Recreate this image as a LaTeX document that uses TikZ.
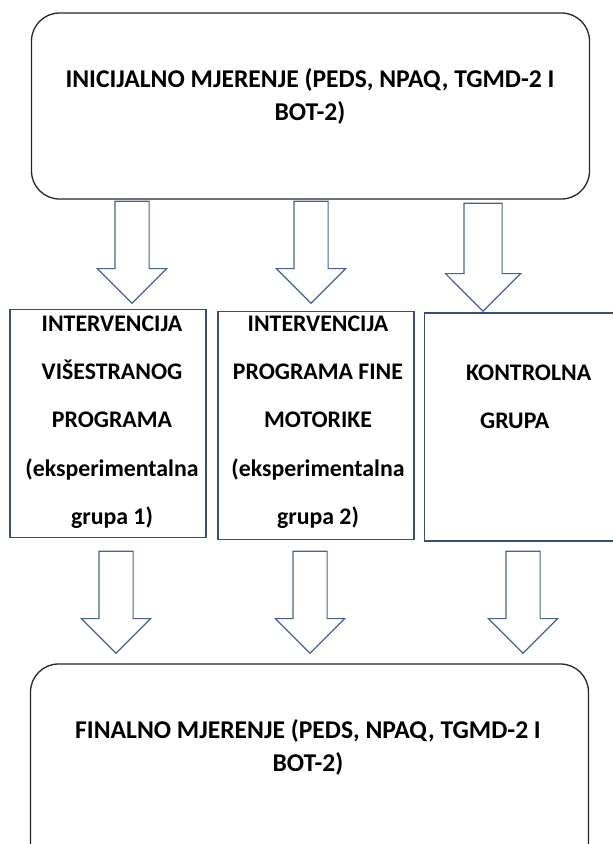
\documentclass[tikz,border=0pt]{standalone}
\usepackage{fontspec}
\setmainfont{Carlito}
\usetikzlibrary{shapes.arrows}
\definecolor{frameblue}{RGB}{58,78,112}
\definecolor{arrowblue}{RGB}{72,98,142}

\begin{document}
\begin{tikzpicture}[x=1pt, y=1pt,
    measure/.style={draw=black!85, line width=1.3pt, rounded corners=28pt, minimum width=558pt, inner sep=0pt},
    group/.style={draw=frameblue, line width=1.2pt, minimum height=228pt, inner sep=0pt},
    bigtext/.style={font=\fontsize{25.6}{33}\selectfont\bfseries, align=center, inner sep=0pt},
    smalltext/.style={font=\fontsize{23.8}{48.3}\selectfont\bfseries, align=center, inner sep=0pt},
    downarrow/.style={single arrow, draw=arrowblue, line width=1.1pt, rotate=-90, anchor=tip,
      inner xsep=0pt, inner ysep=16.5pt, single arrow head extend=17.5pt, minimum height=102pt}
  ]
  \useasboundingbox (0,0) rectangle (613,-844);

  % measurements
  \node[measure, minimum height=186pt] (init) at (310.5,-106) {};
  \node[bigtext] (inittext) at (310,-96) {INICIJALNO MJERENJE (PEDS, NPAQ, TGMD-2 I\\BOT-2)};
  \node[measure, minimum height=216pt] (final) at (309.5,-772) {};
  \node[bigtext] (finaltext) at (308,-747) {FINALNO MJERENJE (PEDS, NPAQ, TGMD-2 I\\BOT-2)};

  % groups
  \node[group, minimum width=196pt] (exp1) at (108,-423.5) {};
  \node[group, minimum width=196pt] (exp2) at (316,-425.5) {};
  \node[group, minimum width=222pt] (ctrl) at (535.5,-427) {};
  \node[smalltext] (exp1text) at (112,-422) {INTERVENCIJA\\VIŠESTRANOG\\PROGRAMA\\(eksperimentalna\\grupa 1)};
  \node[smalltext] (exp2text) at (318,-422) {INTERVENCIJA\\PROGRAMA FINE\\MOTORIKE\\(eksperimentalna\\grupa 2)};
  \node[smalltext, align=left, anchor=west] (ctrltext) at (466,-397) {KONTROLNA\\\hspace*{14pt}GRUPA};

  % arrows
  \node[downarrow] (a1) at (132,-304) {};
  \node[downarrow] (a2) at (311,-304) {};
  \node[downarrow, inner ysep=18.5pt, single arrow head extend=18.5pt, minimum height=108pt] (a3) at (483,-312) {};
  \node[downarrow] (b1) at (116,-654) {};
  \node[downarrow] (b2) at (310,-654) {};
  \node[downarrow] (b3) at (523,-654) {};
\end{tikzpicture}
\end{document}
